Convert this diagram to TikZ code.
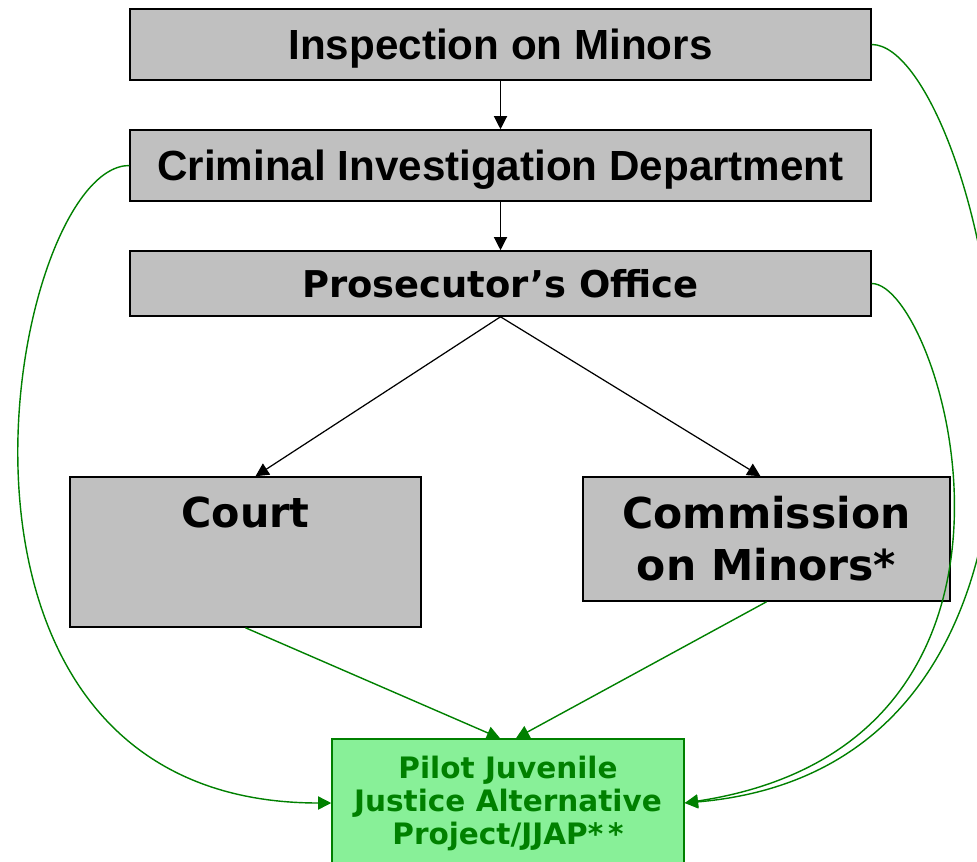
\documentclass[tikz,border=0pt]{standalone}
\usepackage{fontspec}
\usetikzlibrary{arrows.meta}
\newfontfamily\arialb{Liberation Sans}
\newfontfamily\verdb{DejaVu Sans}
\definecolor{boxgray}{RGB}{192,192,192}
\definecolor{jjgreen}{RGB}{0,128,0}
\definecolor{jjfill}{RGB}{136,240,152}
\begin{document}
\begin{tikzpicture}[x = 0.02cm, y = -0.02cm,
    graybox/.style = {draw, line width = 0.9pt, fill = boxgray, inner sep = 0pt},
    greenbox/.style = {draw = jjgreen, line width = 0.9pt, fill = jjfill, inner sep = 0pt, text = jjgreen},
    blackarrow/.style = {line width = 0.7pt, -{Triangle[length = 7.5pt, width = 7.5pt]}},
    greenarrow/.style = {draw = jjgreen, line width = 0.8pt, -{Triangle[length = 7.5pt, width = 7.5pt]}}]
        \useasboundingbox (0,0) rectangle (977,862);
        \node [graybox, minimum width = 14.82cm, minimum height = 1.42cm, text depth = 0pt, font = \arialb\bfseries\fontsize{24}{28}\selectfont] (1-1) at (500.5,44.5) {Inspection on Minors};
        \node [graybox, minimum width = 14.82cm, minimum height = 1.42cm, text depth = 0pt, font = \arialb\bfseries\fontsize{24}{28}\selectfont] (2-1) at (500.5,165.5) {Criminal Investigation Department};
        \node [graybox, minimum width = 14.82cm, minimum height = 1.30cm, font = \verdb\bfseries\fontsize{21}{25}\selectfont] (3-1) at (500.5,283.5) {Prosecutor’s Office};
        \node [graybox, minimum width = 7.02cm, minimum height = 3.0cm, label = {[anchor = north, yshift = -0.28cm, font = \verdb\bfseries\fontsize{23.5}{29.6}\selectfont] north:Court}] (4-1) at (245.5,552) {};
        \node [graybox, minimum width = 7.34cm, minimum height = 2.48cm, align = center, font = \verdb\bfseries\fontsize{24.2}{29.6}\selectfont] (4-2) at (766.5,539) {Commission\\on Minors*};
        \node [greenbox, minimum width = 7.04cm, minimum height = 2.56cm, align = center, font = \verdb\bfseries\fontsize{16.8}{18.8}\selectfont] (5-1) at (508,803) {Pilot Juvenile\\Justice Alternative\\Project/JJAP*\,*};
        \draw [blackarrow] (1-1) -- (2-1);
        \draw [blackarrow] (2-1) -- (3-1);
        \draw [blackarrow] (3-1.south) -- ([xshift = 0.2cm]4-1.north);
        \draw [blackarrow] (3-1.south) -- ([xshift = -0.12cm]4-2.north);
        \draw [greenarrow] (4-1.south) -- ([xshift = -0.16cm]5-1.north);
        \draw [greenarrow] (4-2.south) -- ([xshift = 0.16cm]5-1.north);
        \draw [greenarrow] (2-1.west) .. controls +(-120,0) and +(-440,0) .. (5-1.west);
        \draw [greenarrow] (1-1.east) .. controls +(109,0) and +(466,-40) .. (5-1.east);
        \draw [greenarrow] (3-1.east) .. controls +(69,0) and +(396,-60) .. (5-1.east);
    \end{tikzpicture}
\end{document}
